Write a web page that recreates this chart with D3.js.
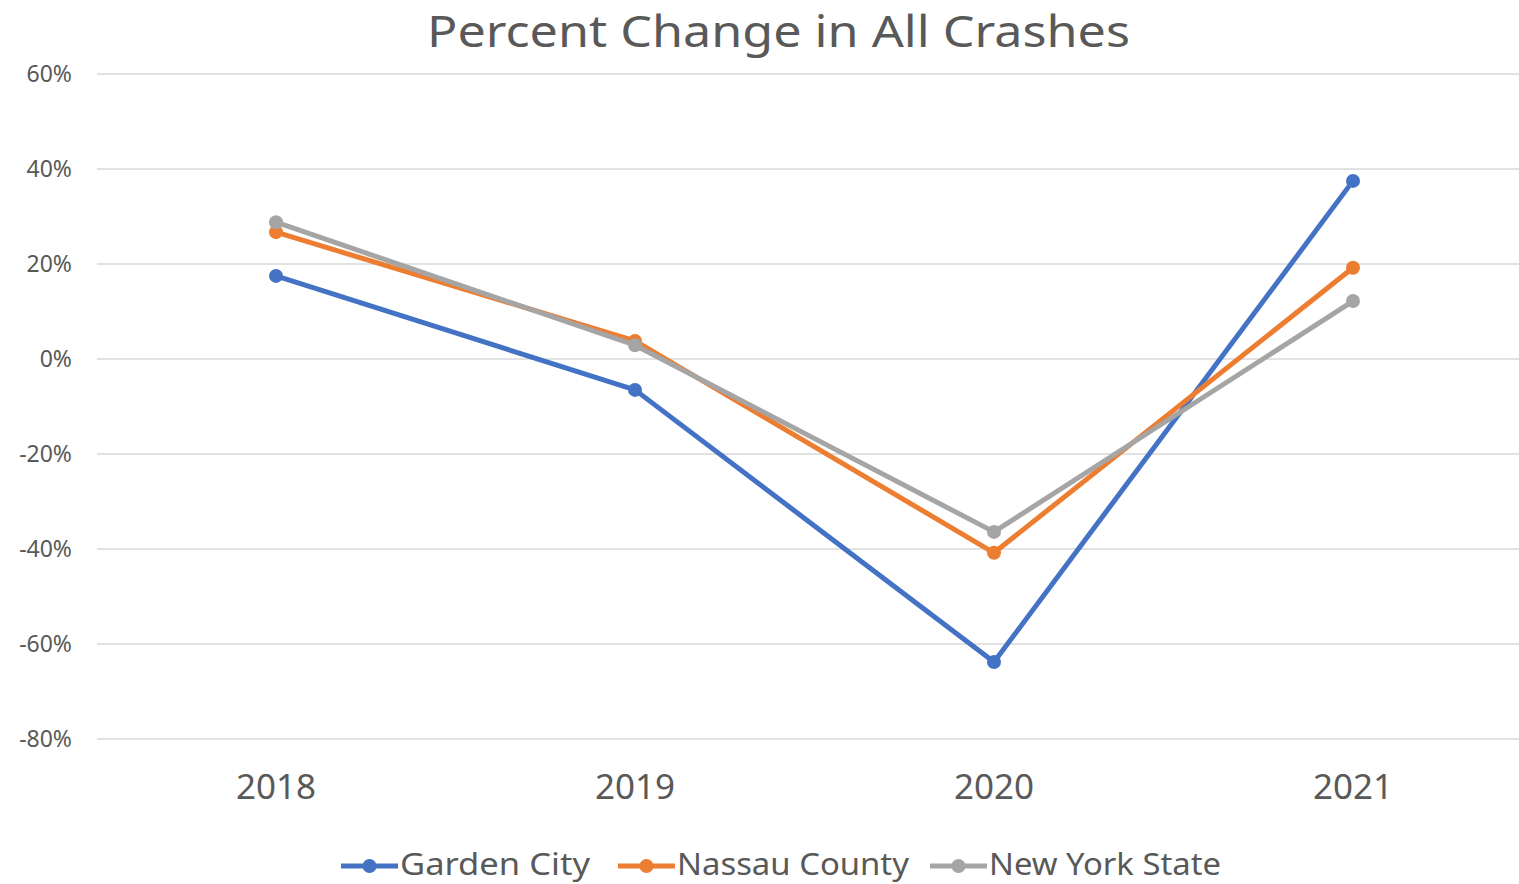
<!DOCTYPE html>
<html>
<head>
<meta charset="utf-8">
<script src="https://cdn.jsdelivr.net/npm/d3@7"></script>
<style>
  body { margin: 0; background: #fff; }
  text { font-family: "Century Gothic", "Noto Sans", sans-serif; fill: #595959; }
</style>
</head>
<body>
<div id="chart"></div>
<script>
// Data
const years = ["2018", "2019", "2020", "2021"];
const seriesNames = ["Garden City", "Nassau County", "New York State"];
const gardenCity = [0.175, -0.065, -0.638, 0.375];
const nassauCounty = [0.267, 0.038, -0.408, 0.192];
const newYorkState = [0.288, 0.029, -0.364, 0.122];
const yTicks = [0.6, 0.4, 0.2, 0, -0.2, -0.4, -0.6, -0.8];

const colors = ["#4472C4", "#ED7D31", "#A5A5A5"];
const series = [gardenCity, nassauCounty, newYorkState];

const width = 1519;
const height = 884;

const svg = d3.select("#chart")
    .append("svg")
    .attr("width", width)
    .attr("height", height);

// Scales
const x = d3.scalePoint()
    .domain(years)
    .range([276, 1353]);

const y = d3.scaleLinear()
    .domain([-0.8, 0.6])
    .range([739, 74]);

// Title
svg.append("text")
    .attr("x", 427)
    .attr("y", 47)
    .attr("textLength", 703)
    .attr("lengthAdjust", "spacingAndGlyphs")
    .style("font-size", "43px")
    .text("Percent Change in All Crashes");

// Gridlines
svg.selectAll(".grid")
    .data(yTicks)
    .join("line")
    .attr("x1", 97)
    .attr("x2", 1519)
    .attr("y1", d => y(d))
    .attr("y2", d => y(d))
    .attr("stroke", "#d9d9d9")
    .attr("stroke-width", 1.5);

// Y labels
svg.selectAll(".ylab")
    .data(yTicks)
    .join("text")
    .attr("x", 72)
    .attr("y", d => y(d) + 8)
    .attr("text-anchor", "end")
    .style("font-size", "23px")
    .text(d => d3.format(".0%")(d).replace("−", "-"));

// X labels
svg.selectAll(".xlab")
    .data(years)
    .join("text")
    .attr("x", d => x(d))
    .attr("y", 799)
    .attr("text-anchor", "middle")
    .style("font-size", "35px")
    .text(d => d);

// Lines and markers
const line = d3.line()
    .x((d, i) => x(years[i]))
    .y(d => y(d));

series.forEach((vals, s) => {
    svg.append("path")
        .datum(vals)
        .attr("d", line)
        .attr("fill", "none")
        .attr("stroke", colors[s])
        .attr("stroke-width", 5)
        .attr("stroke-linejoin", "round");

    svg.selectAll(".pt" + s)
        .data(vals)
        .join("circle")
        .attr("cx", (d, i) => x(years[i]))
        .attr("cy", d => y(d))
        .attr("r", 7)
        .attr("fill", colors[s]);
});

// Legend
const legendX = [341, 618, 930];
const legendW = [190, 232, 232];
const legend = svg.selectAll(".leg")
    .data(seriesNames)
    .join("g")
    .attr("transform", (d, i) => `translate(${legendX[i]},866)`);

legend.append("line")
    .attr("x1", 0).attr("x2", 57)
    .attr("stroke", (d, i) => colors[i])
    .attr("stroke-width", 5);

legend.append("circle")
    .attr("cx", 28.5)
    .attr("r", 7)
    .attr("fill", (d, i) => colors[i]);

legend.append("text")
    .attr("x", 59)
    .attr("y", 9)
    .attr("textLength", (d, i) => legendW[i])
    .attr("lengthAdjust", "spacingAndGlyphs")
    .style("font-size", "30px")
    .text(d => d);
</script>
</body>
</html>
